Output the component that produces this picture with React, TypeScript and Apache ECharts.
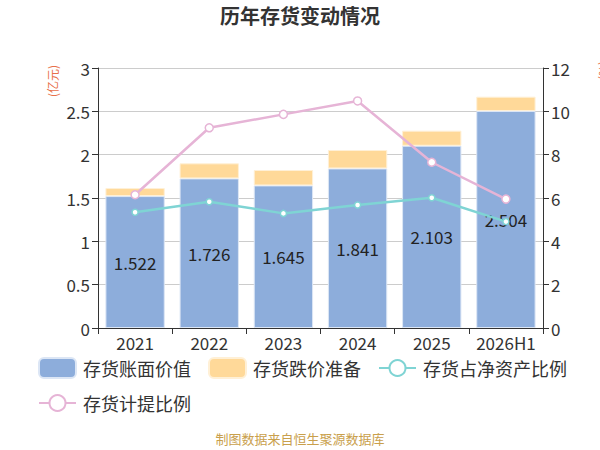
import React, { useEffect, useRef } from "react";
import * as echarts from "echarts";

const categories = ["2021", "2022", "2023", "2024", "2025", "2026H1"];
const bookValue = [1.522, 1.726, 1.645, 1.841, 2.103, 2.504];
const impairment = [0.093, 0.174, 0.178, 0.213, 0.174, 0.165];
const netAssetRatio = [5.34, 5.83, 5.29, 5.68, 6.01, 4.91];
const provisionRatio = [6.15, 9.24, 9.86, 10.48, 7.65, 5.95];
const leftTicks = [0, 0.5, 1, 1.5, 2, 2.5, 3];

export default function App() {
  const ref = useRef<HTMLDivElement>(null);
  useEffect(() => {
    const chart = echarts.init(ref.current!, null, { renderer: "svg" });
    const font = "'Noto Sans CJK SC', 'Noto Sans', sans-serif";
    chart.setOption({
      animation: false,
      textStyle: { fontFamily: font },
      title: {
        text: "历年存货变动情况",
        left: "center",
        top: 0,
        textStyle: { fontSize: 20, fontWeight: "bold", color: "#333", fontFamily: font },
      },
      grid: { left: 98, right: 57, top: 68, bottom: 122 },
      legend: {
        left: 33,
        right: 20,
        top: 352,
        itemWidth: 37,
        itemHeight: 20,
        itemGap: 13,
        textStyle: {
          fontSize: 18,
          lineHeight: 20,
          padding: [0, 4, 0, 2],
          color: "#333",
          fontFamily: font,
        },
        data: [
          { name: "存货账面价值", icon: "roundRect" },
          { name: "存货跌价准备", icon: "roundRect" },
          { name: "存货占净资产比例" },
          { name: "存货计提比例" },
        ],
      },
      graphic: [
        {
          type: "text",
          x: 46,
          y: 97,
          rotation: Math.PI / 2,
          style: { text: "(亿元)", fill: "#e8704a", fontSize: 12, fontFamily: font },
        },
        {
          type: "text",
          x: 596,
          y: 80,
          rotation: Math.PI / 2,
          style: { text: "(%)", fill: "#e8704a", fontSize: 12, fontFamily: font },
        },
        {
          type: "text",
          left: "center",
          top: 432,
          style: { text: "制图数据来自恒生聚源数据库", fill: "#c9a04c", fontSize: 13, fontFamily: font },
        },
      ],
      xAxis: {
        type: "category",
        data: categories,
        axisLine: { lineStyle: { color: "#333" } },
        axisTick: { show: true, alignWithLabel: false, length: 6, lineStyle: { color: "#333" } },
        axisLabel: { fontSize: 17, color: "#333", margin: 6, interval: 0 },
      },
      yAxis: [
        {
          type: "value",
          min: leftTicks[0],
          max: leftTicks[leftTicks.length - 1],
          interval: 0.5,
          axisLine: { show: true, lineStyle: { color: "#333" } },
          axisTick: { show: true, length: 6, lineStyle: { color: "#333" } },
          axisLabel: { fontSize: 17, color: "#333" },
          splitLine: { lineStyle: { color: "#ccc" } },
        },
        {
          type: "value",
          min: 0,
          max: 12,
          interval: 2,
          axisLine: { show: true, lineStyle: { color: "#333" } },
          axisTick: { show: true, length: 6, lineStyle: { color: "#333" } },
          axisLabel: { fontSize: 17, color: "#333" },
          splitLine: { show: false },
        },
      ],
      series: [
        {
          name: "存货账面价值",
          type: "bar",
          stack: "inv",
          barWidth: "80%",
          data: bookValue,
          itemStyle: { color: "#8daddb", borderColor: "#dce6f5", borderWidth: 1 },
          label: {
            show: true,
            position: "inside",
            fontSize: 17,
            color: "#222",
            formatter: (p: any) => p.value.toFixed(3),
          },
        },
        {
          name: "存货跌价准备",
          type: "bar",
          stack: "inv",
          barWidth: "80%",
          data: impairment,
          itemStyle: { color: "#ffd999", borderColor: "#fff0d6", borderWidth: 1 },
        },
        {
          name: "存货占净资产比例",
          type: "line",
          yAxisIndex: 1,
          data: netAssetRatio,
          symbol: "circle",
          symbolSize: 6,
          lineStyle: { color: "#7fd4d4", width: 2.5 },
          itemStyle: { color: "#fff", borderColor: "#7fd4d4", borderWidth: 1.5 },
        },
        {
          name: "存货计提比例",
          type: "line",
          yAxisIndex: 1,
          data: provisionRatio,
          symbol: "circle",
          symbolSize: 8,
          lineStyle: { color: "#e6b4d6", width: 2.5 },
          itemStyle: { color: "#fff", borderColor: "#e6b4d6", borderWidth: 1.5 },
        },
      ],
    });
    return () => chart.dispose();
  }, []);
  return <div ref={ref} style={{ position: "absolute", left: 0, top: 0, width: 600, height: 450 }} />;
}
